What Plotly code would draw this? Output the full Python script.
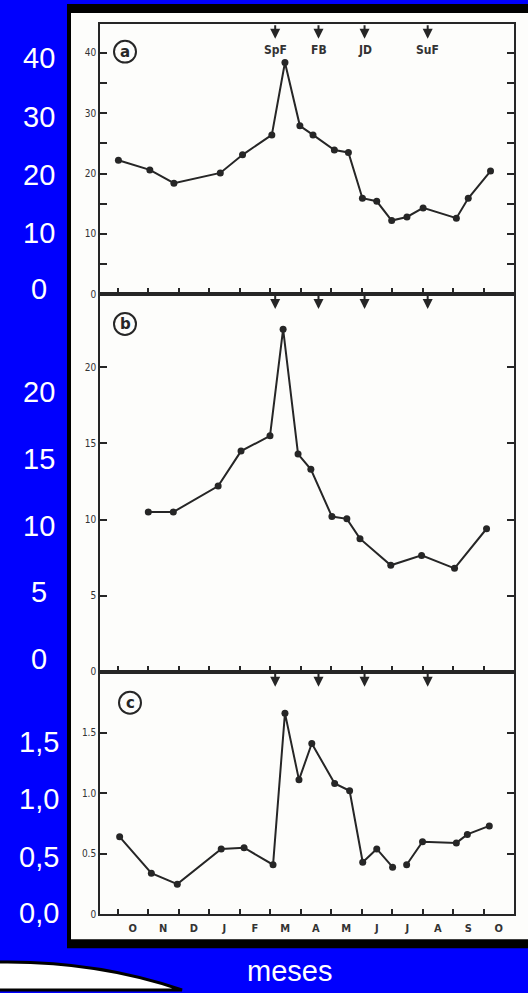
import plotly.graph_objects as go

# Canvas size in pixels
W, H = 528, 993


def fx(p):
    """pixel column -> paper x"""
    return p / W


def fy(p):
    """pixel row (from top) -> paper y"""
    return 1 - p / H


# ---------------- data ----------------
month_labels = ["O", "N", "D", "J", "F", "M", "A", "M", "J", "J", "A", "S", "O"]

event_names = ["SpF", "FB", "JD", "SuF"]
event_month = [5.17, 6.59, 8.10, 10.17]

# panel (a)
a_month = [0.03, 1.06, 1.85, 3.37, 4.10, 5.06, 5.49, 5.98, 6.41, 7.11,
           7.57, 8.03, 8.50, 8.99, 9.49, 10.02, 11.11, 11.50, 12.23]
a_value = [22.2, 20.6, 18.4, 20.1, 23.1, 26.4, 38.4, 27.9, 26.4, 23.9,
           23.5, 15.9, 15.4, 12.2, 12.8, 14.3, 12.6, 15.9, 20.4]

# panel (b)
b_month = [1.01, 1.83, 3.30, 4.05, 5.00, 5.43, 5.92, 6.34, 7.03, 7.52,
           7.95, 8.96, 9.97, 11.05, 12.10]
b_value = [10.5, 10.5, 12.2, 14.5, 15.5, 22.5, 14.3, 13.3, 10.2, 10.05,
           8.75, 7.0, 7.65, 6.8, 9.4]

# panel (c) -- the curve is interrupted after the 14th sample
c_month = [0.07, 1.11, 1.96, 3.40, 4.15, 5.10, 5.49, 5.95, 6.37, 7.12,
           7.61, 8.04, 8.50, 9.02, 9.48, 10.00, 11.11, 11.47, 12.19]
c_value = [0.64, 0.34, 0.25, 0.54, 0.55, 0.41, 1.66, 1.11, 1.41, 1.08,
           1.02, 0.43, 0.54, 0.39, 0.41, 0.60, 0.59, 0.66, 0.73]
c_break = 14

# outer labels (slide text)
a_outer = ["40", "30", "20", "10", "0"]
b_outer = ["20", "15", "10", "5", "0"]
c_outer = ["1,5", "1,0", "0,5", "0,0"]

# ---------------- geometry ----------------
X_LEFT, X_RIGHT = 100, 514          # plot frame columns
A_TOP, AB, BC, C_BOT = 24, 296, 676, 920
X_RANGE = [(X_LEFT - 117.5) / 30.5, (X_RIGHT - 117.5) / 30.5]

INK = "#262626"
TXT = "#333333"
BLUE = "#0000FE"
COND = "DejaVu Sans Condensed, DejaVu Sans"
small_font = dict(family=COND, size=10, color=TXT)

fig = go.Figure()

line_style = dict(color=INK, width=2)
marker_style = dict(color=INK, size=7)

fig.add_trace(go.Scatter(x=a_month, y=a_value, mode="lines+markers",
                         line=line_style, marker=marker_style,
                         xaxis="x3", yaxis="y3", showlegend=False))
fig.add_trace(go.Scatter(x=b_month, y=b_value, mode="lines+markers",
                         line=line_style, marker=marker_style,
                         xaxis="x2", yaxis="y2", showlegend=False))
fig.add_trace(go.Scatter(x=c_month[:c_break], y=c_value[:c_break],
                         mode="lines+markers", line=line_style,
                         marker=marker_style, xaxis="x", yaxis="y",
                         showlegend=False))
fig.add_trace(go.Scatter(x=c_month[c_break:], y=c_value[c_break:],
                         mode="lines+markers", line=line_style,
                         marker=marker_style, xaxis="x", yaxis="y",
                         showlegend=False))
# invisible trace so the month-letter axis is drawn
fig.add_trace(go.Scatter(x=[0.5], y=[None], xaxis="x4", yaxis="y",
                         showlegend=False, hoverinfo="skip"))

x_dom = [fx(X_LEFT), fx(X_RIGHT)]
x_common = dict(range=X_RANGE, domain=x_dom, tickvals=list(range(13)),
                ticks="inside", ticklen=6, tickwidth=2, tickcolor=INK,
                showticklabels=False, showline=True, linecolor=INK,
                linewidth=1.6, mirror=True, showgrid=False, zeroline=False)
y_common = dict(ticks="inside", ticklen=7, tickwidth=2, tickcolor=INK,
                showline=True, linecolor=INK, linewidth=1.6, mirror="ticks",
                showgrid=False, zeroline=False, tickfont=small_font)

fig.update_layout(
    width=W, height=H,
    margin=dict(l=0, r=0, t=0, b=0),
    paper_bgcolor=BLUE,
    plot_bgcolor="rgba(0,0,0,0)",
    xaxis=dict(**x_common, anchor="y"),
    xaxis2=dict(**x_common, anchor="y2"),
    xaxis3=dict(**x_common, anchor="y3"),
    xaxis4=dict(range=X_RANGE, domain=x_dom, overlaying="x", anchor="y",
                tickvals=[i + 0.5 for i in range(13)], ticktext=month_labels,
                ticks="", showline=False, showgrid=False, zeroline=False,
                tickfont=dict(family=COND, size=11, color=TXT, weight="bold"),
                ticklabelstandoff=6),
    yaxis=dict(**y_common, domain=[fy(C_BOT), fy(BC)], range=[0, 2.0],
               tickvals=[0, 0.5, 1.0, 1.5], ticktext=["0", "0.5", "1.0", "1.5"]),
    yaxis2=dict(**y_common, domain=[fy(BC), fy(AB)], range=[0, 24.8],
                tickvals=[0, 5, 10, 15, 20]),
    yaxis3=dict(**y_common, domain=[fy(AB), fy(A_TOP)], range=[0, 44.8],
                tickvals=[0, 10, 20, 30, 40],
                minor=dict(tickvals=[5, 15, 25, 35], ticks="inside",
                           ticklen=7, tickwidth=2, tickcolor=INK)),
)

shapes = [
    # slide frame
    dict(type="rect", xref="paper", yref="paper", layer="below",
         x0=fx(67), x1=fx(545), y0=fy(954), y1=fy(4),
         fillcolor="black", line=dict(width=0)),
    dict(type="rect", xref="paper", yref="paper", layer="below",
         x0=fx(71), x1=fx(545), y0=fy(945), y1=fy(13),
         fillcolor="#FDFDFB", line=dict(width=0)),
    # white swoosh in the lower-left corner
    dict(type="path", xref="paper", yref="paper",
         path=(f"M {fx(-5)},{fy(968)} Q {fx(95)},{fy(966)} {fx(182)},{fy(996)} "
               f"L {fx(-5)},{fy(996)} Z"),
         fillcolor="white", line=dict(color="black", width=3)),
]

# circled panel letters
panel_tags = [("a", 125, 52), ("b", 125, 326), ("c", 130, 707)]
annotations = []
for letter, cx, cy in panel_tags:
    r = 11
    shapes.append(dict(type="circle", xref="paper", yref="paper",
                       x0=fx(cx - r), x1=fx(cx + r), y0=fy(cy + r), y1=fy(cy - r),
                       line=dict(color=INK, width=2)))
    annotations.append(dict(x=fx(cx), y=fy(cy), xref="paper", yref="paper",
                            text=letter, showarrow=False,
                            xanchor="center", yanchor="middle",
                            font=dict(family="DejaVu Sans", size=15, color=INK,
                                      weight="bold")))

# event arrows hanging from each panel's top edge
panel_axes = [("x3", "y3", A_TOP, AB), ("x2", "y2", AB, BC), ("x", "y", BC, C_BOT)]
for xa, ya, top, bot in panel_axes:
    h = bot - top
    for m in event_month:
        annotations.append(dict(x=m, xref=xa, y=1 - 15 / h, yref=f"{ya} domain",
                                ax=0, ay=-15, showarrow=True, text="",
                                arrowhead=2, arrowsize=1.0, arrowwidth=2,
                                arrowcolor=INK))

# event names under the top arrows
for name, m in zip(event_names, event_month):
    annotations.append(dict(x=m, xref="x3", y=1 - 26 / (AB - A_TOP),
                            yref="y3 domain", text=name, showarrow=False,
                            xanchor="center", yanchor="middle",
                            font=dict(family=COND, size=12, color=TXT,
                                      weight="bold")))

# big white labels on the blue margin
big = dict(family="Liberation Sans, Arial", size=29, color="white")
outer_rows = [(a_outer, [57, 117, 175, 233, 290]),
              (b_outer, [393, 461, 528, 595, 662]),
              (c_outer, [746, 803, 861, 918])]
for labels, rows in outer_rows:
    for lab, row in zip(labels, rows):
        annotations.append(dict(x=fx(39), y=fy(row + 1), xref="paper",
                                yref="paper", text=lab, showarrow=False,
                                xanchor="center", yanchor="middle", font=big))

annotations.append(dict(x=fx(289), y=fy(977), xref="paper", yref="paper",
                        text="meses", showarrow=False, xanchor="center",
                        yanchor="middle", borderpad=0,
                        font=dict(family="Liberation Sans, Arial", size=29,
                                  color="white")))

fig.update_layout(shapes=shapes, annotations=annotations)

fig.write_html("out.html")
